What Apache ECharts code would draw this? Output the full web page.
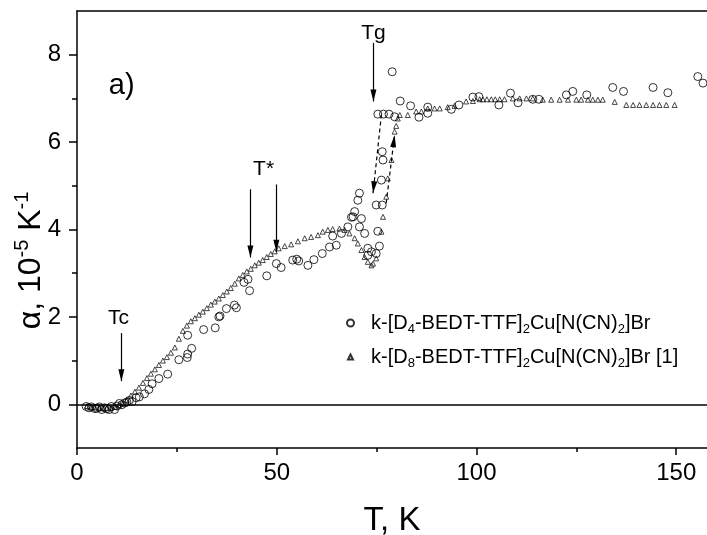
<!DOCTYPE html>
<html><head><meta charset="utf-8">
<script src="https://cdn.jsdelivr.net/npm/echarts@6/dist/echarts.min.js"></script>
<style>html,body{margin:0;padding:0;background:#fff}#c{width:707px;height:535px}</style>
</head><body><div id="c"></div>
<script>
// ---- tick values ----
const xTickLabels = [0, 50, 100, 150];
const xMinorTicks = [25, 75, 125];
const yTickLabels = [0, 2, 4, 6, 8];
const yMinorTicks = [1, 3, 5, 7];

// ---- series 1: k-[D4-BEDT-TTF]2Cu[N(CN)2]Br (open circles) ----
const d4T = [2.3,3.0,3.6,4.5,5.0,5.6,6.2,6.9,7.5,8.0,8.6,9.4,10.0,10.6,11.2,11.9,12.5,13.1,13.8,14.8,15.6,16.9,18.0,18.8,20.5,22.7,25.5,27.6,27.7,27.7,28.7,31.7,34.6,35.5,35.8,37.4,39.4,39.9,41.8,42.8,43.2,47.5,49.9,51.1,54.0,55.0,55.5,57.8,59.3,61.4,63.2,64.0,64.9,66.2,67.8,68.7,69.1,69.5,70.3,70.7,70.7,71.2,72.0,72.8,72.8,73.7,74.9,75.3,75.7,74.9,76.4,76.2,76.6,76.4,75.3,76.7,78.1,79.5,78.9,80.9,83.5,85.6,87.8,87.8,93.7,95.6,99.1,100.6,105.6,108.5,110.4,114.1,115.6,122.5,124.1,127.6,134.1,136.8,144.2,147.9,155.4,156.7];
const d4Alpha = [-0.05,-0.08,-0.06,-0.10,-0.09,-0.06,-0.12,-0.08,-0.10,-0.12,-0.05,-0.12,-0.04,0.02,-0.01,0.03,0.05,0.09,0.06,0.15,0.17,0.24,0.34,0.47,0.59,0.69,1.02,1.07,1.15,1.58,1.28,1.71,1.75,2.00,2.02,2.19,2.27,2.21,2.79,2.86,2.60,2.94,3.22,3.13,3.30,3.32,3.28,3.18,3.31,3.45,3.60,3.85,3.64,3.91,4.06,4.28,4.29,4.41,4.67,4.83,4.06,4.25,3.91,3.57,3.41,3.49,3.45,3.96,3.62,4.56,4.56,5.13,5.59,5.78,6.64,6.64,6.64,6.58,7.61,6.94,6.83,6.57,6.80,6.66,6.75,6.85,7.03,7.04,6.85,7.12,6.90,6.98,6.98,7.08,7.16,7.08,7.25,7.16,7.25,7.13,7.50,7.35];

// ---- series 2: k-[D8-BEDT-TTF]2Cu[N(CN)2]Br [1] (open triangles) ----
const d8T = [2.5,3.5,4.5,5.5,6.5,7.5,8.5,9.5,10.5,11.5,12.5,
  13.5,14.5,15.5,16.5,17.5,18.5,19.5,20.5,21.5,22.5,23.5,24.5,25.5,26.5,27.5,28.5,29.5,30.5,31.5,32.5,33.5,34.5,35.5,36.5,37.5,38.5,39.5,40.5,41.5,42.5,43.5,44.5,45.5,46.5,47.5,48.5,49.5,50.5,
  52.0,53.6,55.3,57.0,58.6,60.3,61.5,62.8,64.0,65.7,
  67.0,68.2,69.5,70.3,71.2,72.0,72.8,73.7,
  74.1,74.9,76.2,76.6,77.4,77.8,78.7,79.5,79.9,80.3,80.8,
  82.8,84.9,86.2,87.8,89.5,90.8,92.8,94.5,97.4,99.1,100.8,
  101.6,102.6,103.7,104.7,105.8,
  107.0,109.1,110.8,112.5,114.1,
  116.6,118.7,120.8,122.9,125.0,126.2,127.9,129.1,130.4,131.6,
  134.6,
  137.5,139.2,140.8,142.5,144.2,145.8,147.5,149.6];
const d8Alpha = [-0.04,-0.06,-0.07,-0.08,-0.09,-0.09,-0.08,-0.06,-0.03,0.02,0.10,
  0.20,0.29,0.38,0.49,0.60,0.70,0.80,0.90,1.00,1.08,1.18,1.30,1.50,1.68,1.80,1.90,1.97,2.05,2.12,2.20,2.28,2.35,2.42,2.50,2.58,2.66,2.76,2.88,2.96,3.04,3.10,3.18,3.24,3.30,3.37,3.44,3.50,3.57,
  3.62,3.66,3.73,3.80,3.83,3.87,3.95,3.99,4.01,4.02,
  3.99,3.91,3.80,3.68,3.53,3.37,3.26,3.18,
  3.22,3.34,3.95,4.29,4.75,5.17,5.59,6.24,6.37,6.54,6.62,
  6.62,6.70,6.70,6.77,6.77,6.77,6.80,6.83,6.93,6.94,6.98,
  6.98,6.98,6.98,6.98,6.98,
  6.98,7.00,7.00,7.00,7.00,
  6.97,6.97,6.97,6.97,6.97,6.97,6.97,6.97,6.97,6.97,
  6.92,
  6.85,6.85,6.85,6.85,6.85,6.85,6.85,6.85];

const seriesNames = ['k-[D4-BEDT-TTF]2Cu[N(CN)2]Br', 'k-[D8-BEDT-TTF]2Cu[N(CN)2]Br [1]'];
const legendRich = {
  [seriesNames[0]]: 'k-[D{s|4}-BEDT-TTF]{s|2}Cu[N(CN){s|2}]Br',
  [seriesNames[1]]: 'k-[D{s|8}-BEDT-TTF]{s|2}Cu[N(CN){s|2}]Br [1]'
};

// ---- annotations (data coordinates) ----
const arrowsSolid = [ // [x, yStart, yTip]
  [11.1, 1.63, 0.53],
  [43.4, 4.92, 3.36],
  [49.9, 5.03, 3.49],
  [74.2, 8.27, 6.93]
];
const arrowsDashed = [ // [x1, y1, xTip, yTip]
  [76.2, 6.63, 74.1, 4.83],
  [77.4, 4.60, 79.5, 6.16]
];
const textNotes = [ // [text, x, y, fontSize]
  ['Tc', 10.4, 1.98, 21],
  ['T*', 46.7, 5.38, 21],
  ['Tg', 74.2, 8.50, 21],
  ['a)', 11.2, 7.28, 29]
];

const FONT = "'Liberation Sans', Arial, sans-serif";
const zip = (a, b) => a.map((v, i) => [v, b[i]]);
const ARROW = 'path://M12,12L15,24L9,24Z M12,0L12.02,0L12,0.02Z M0,12L0.02,12L0,12.02Z M24,12L23.98,12L24,12.02Z';

const mlData = [];
arrowsSolid.forEach(a => mlData.push([
  {coord: [a[0], a[1]], symbol: 'none', lineStyle: {type: 'solid'}},
  {coord: [a[0], a[2]], symbol: ARROW, symbolSize: 24, lineStyle: {type: 'solid'}}
]));
arrowsDashed.forEach(a => mlData.push([
  {coord: [a[0], a[1]], symbol: 'none', lineStyle: {type: [4, 3]}},
  {coord: [a[2], a[3]], symbol: ARROW, symbolSize: 24, lineStyle: {type: [4, 3]}}
]));

const legendText = {
  fontFamily: FONT, color: '#000', fontSize: 20, lineHeight: 26, padding: [0, 0, 0, 12],
  rich: {s: {fontSize: 13, lineHeight: 13, verticalAlign: 'bottom', fontFamily: FONT, color: '#000'}}
};

const chart = echarts.init(document.getElementById('c'), null, {renderer: 'canvas'});
const axisBlack = {lineStyle: {color: '#000', width: 1.5}};
chart.setOption({
  animation: false,
  backgroundColor: '#fff',
  textStyle: {fontFamily: FONT, color: '#000'},
  grid: {left: 77, right: 0, top: 11, bottom: 87, containLabel: false, outerBoundsMode: 'none'},
  xAxis: [
    {
      type: 'value', min: 0, max: 157.7, position: 'bottom',
      axisLine: {show: true, onZero: false, ...axisBlack},
      axisTick: {show: true, inside: false, length: 7, customValues: xTickLabels, lineStyle: {color: '#000', width: 1.5}},
      axisLabel: {show: true, customValues: xTickLabels, margin: 13, fontSize: 24, color: '#000', fontFamily: FONT},
      splitLine: {show: false},
      name: 'T, K', nameLocation: 'middle', nameGap: 56, nameMoveOverlap: false,
      nameTextStyle: {fontSize: 33, color: '#000', fontFamily: FONT}
    },
    {
      type: 'value', min: 0, max: 157.7, position: 'bottom',
      axisLine: {show: false, onZero: false},
      axisTick: {show: true, length: 4, customValues: xMinorTicks, lineStyle: {color: '#000', width: 1.5}},
      axisLabel: {show: false}, splitLine: {show: false}
    },
    {
      type: 'value', min: 0, max: 157.7, position: 'top',
      axisLine: {show: true, onZero: false, ...axisBlack},
      axisTick: {show: false}, axisLabel: {show: false}, splitLine: {show: false}
    }
  ],
  yAxis: [
    {
      type: 'value', min: -1, max: 9, position: 'left',
      axisLine: {show: true, onZero: false, ...axisBlack},
      axisTick: {show: true, length: 8, customValues: yTickLabels, lineStyle: {color: '#000', width: 1.5}},
      axisLabel: {show: true, customValues: yTickLabels, margin: 16, fontSize: 24, color: '#000', fontFamily: FONT},
      splitLine: {show: false},
      name: '{m|α, 10}{s|-5}{m| K}{s|-1}', nameLocation: 'middle', nameGap: 27, nameMoveOverlap: false,
      nameTextStyle: {
        color: '#000', fontFamily: FONT, padding: [0, 62, 0, 0],
        rich: {
          m: {fontSize: 32, lineHeight: 38, fontFamily: FONT, color: '#000'},
          s: {fontSize: 20, lineHeight: 20, verticalAlign: 'top', fontFamily: FONT, color: '#000'}
        }
      }
    },
    {
      type: 'value', min: -1, max: 9, position: 'left',
      axisLine: {show: false, onZero: false},
      axisTick: {show: true, length: 5, customValues: yMinorTicks, lineStyle: {color: '#000', width: 1.5}},
      axisLabel: {show: false}, splitLine: {show: false}
    }
  ],
  legend: [
    {
      data: [seriesNames[0]], left: 341, top: 305, orient: 'vertical',
      itemWidth: 7, itemHeight: 7, itemGap: 0,
      formatter: n => legendRich[n],
      textStyle: legendText
    },
    {
      data: [seriesNames[1]], left: 342, top: 339, orient: 'vertical',
      itemWidth: 5, itemHeight: 5, itemGap: 0,
      formatter: n => legendRich[n],
      textStyle: Object.assign({}, legendText, {padding: [0, 0, 0, 13]})
    }
  ],
  series: [
    {
      name: seriesNames[0], type: 'scatter', xAxisIndex: 0, yAxisIndex: 0,
      data: zip(d4T, d4Alpha), symbol: 'circle', symbolSize: 8, symbolKeepAspect: true,
      itemStyle: {color: 'rgba(0,0,0,0)', borderColor: '#000', borderWidth: 1},
      emphasis: {disabled: true}, silent: true,
      markLine: {
        silent: true, symbol: ['none', 'none'], label: {show: false},
        lineStyle: {color: '#000', width: 1.5, type: 'solid'},
        emphasis: {disabled: true},
        data: [{yAxis: 0}]
      },
      markPoint: {
        silent: true, symbol: 'circle', symbolSize: 1,
        itemStyle: {color: 'rgba(0,0,0,0)'},
        data: textNotes.map(t => ({
          name: t[0], coord: [t[1], t[2]],
          label: {show: true, position: 'inside', formatter: '{b}', fontSize: t[3], color: '#000', fontFamily: FONT}
        }))
      },
      z: 3
    },
    {
      name: seriesNames[1], type: 'scatter', xAxisIndex: 0, yAxisIndex: 0,
      data: zip(d8T, d8Alpha), symbol: 'triangle', symbolSize: 5, symbolKeepAspect: true,
      itemStyle: {color: 'rgba(0,0,0,0)', borderColor: '#000', borderWidth: 0.9},
      emphasis: {disabled: true}, silent: true,
      markLine: {
        silent: true, label: {show: false},
        lineStyle: {color: '#000', width: 1.2},
        emphasis: {disabled: true},
        data: mlData
      },
      z: 3
    }
  ]
});
</script></body></html>
